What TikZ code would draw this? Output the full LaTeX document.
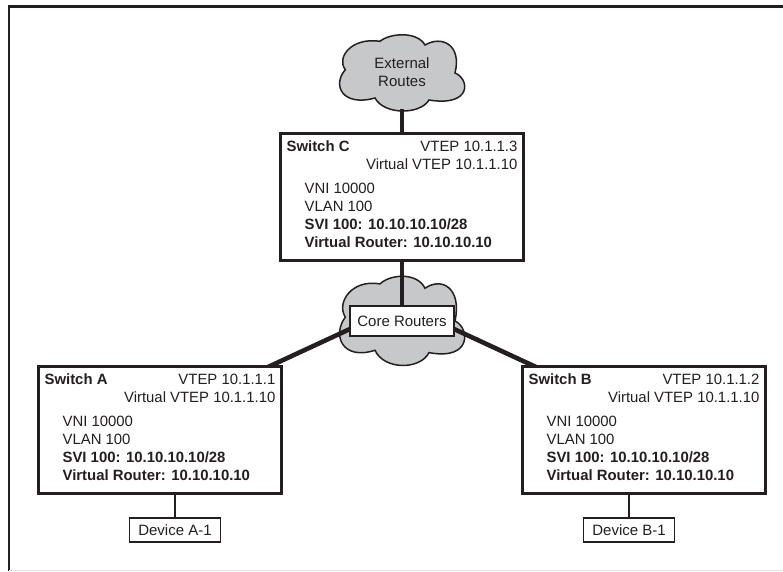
\documentclass[tikz,border=0pt]{standalone}
\usepackage{fontspec}
\setmainfont{Liberation Sans}
\usetikzlibrary{calc, backgrounds}

\definecolor{cloudgray}{RGB}{199,200,202}
\definecolor{inkgray}{RGB}{35,31,32}
\tikzset{
  switchbox/.style={draw=inkgray, line width=2.2pt, fill=white, minimum width=243pt, minimum height=127pt, inner sep=0pt},
  devicebox/.style={draw=inkgray, line width=1.9pt, fill=white, minimum width=91pt, minimum height=24pt, inner sep=0pt, text=inkgray, font=\fontsize{15}{18}\selectfont},
  corebox/.style={draw=inkgray, line width=1.9pt, fill=white, minimum width=104pt, minimum height=30pt, inner sep=0pt, text=inkgray, font=\fontsize{15}{18}\selectfont},
  cloudline/.style={draw=inkgray, line width=1.5pt, fill=cloudgray},
  trunk/.style={draw=inkgray, line width=4.6pt},
  access/.style={draw=inkgray, line width=1.9pt},
  leftline/.style={anchor=base west, inner sep=0pt, text=inkgray, font=\fontsize{14.9}{18}\selectfont},
  rightline/.style={anchor=base east, inner sep=0pt, text=inkgray, font=\fontsize{14.9}{18}\selectfont}
}
\newcommand{\cloudpath}{(-56.7,-3.3) .. controls (-66,-16) and (-50,-36) .. (-22,-31.7)
  .. controls (-12,-40) and (15,-42) .. (23,-28)
  .. controls (40,-38) and (60,-28) .. (53,0)
  .. controls (68,6) and (70,34) .. (27,27)
  .. controls (18,42) and (-18,42) .. (-27,25)
  .. controls (-60,34) and (-70,12) .. (-56.7,-3.3) -- cycle}

\begin{document}
\begin{tikzpicture}[x=1pt, y=-1pt]
\useasboundingbox (0,0) rectangle (783,571);

% frame
\draw[inkgray, line width=2.8pt] (9,571) -- (9,6.5) -- (783,6.5);
\draw[cloudgray!50, line width=0.6pt] (9,570.5) -- (783,570.5);

% boxes
\node[switchbox] (switchC) at (402,197) {};
\node[switchbox] (switchA) at (160,430) {};
\node[switchbox] (switchB) at (644,430) {};
\node[corebox] (core) at (402,321) {Core Routers};
\node[devicebox] (deviceA) at (175,530) {Device A-1};
\node[devicebox] (deviceB) at (629,530) {Device B-1};

% free ends of the links
\coordinate (externalfoot) at (402,109);
\coordinate (coreleft) at (350,329);
\coordinate (coreright) at (454,329);
\coordinate (uplinkA) at (268,367);
\coordinate (uplinkB) at (536,367);

% clouds and links
\begin{scope}[on background layer]
\path[cloudline, shift={(402,73)}] \cloudpath;
\path[cloudline, shift={(402,321)}, yscale=1.17] \cloudpath;
\draw[trunk] (externalfoot) -- (switchC.north);
\draw[trunk] (switchC.south) -- (core.north);
\draw[trunk] (coreleft) -- (uplinkA);
\draw[trunk] (coreright) -- (uplinkB);
\draw[access] (switchA.south -| deviceA) -- (deviceA.north);
\draw[access] (switchB.south -| deviceB) -- (deviceB.north);
\end{scope}
\node[text=inkgray, align=center, font=\fontsize{15}{18}\selectfont] (external) at (402,72.5) {External\\Routes};

% switch C
\node[leftline] (nameC) at ($(switchC.north west)+(7,19.5)$) {\textbf{Switch C}};
\node[rightline] (vtepC) at ($(switchC.north east)+(-7,19.5)$) {VTEP 10.1.1.3};
\node[rightline] (virtC) at ($(switchC.north east)+(-7,37.5)$) {Virtual VTEP 10.1.1.10};
\node[leftline] (vniC) at ($(switchC.north west)+(25,61.5)$) {VNI 10000};
\node[leftline] (vlanC) at ($(switchC.north west)+(25,79.5)$) {VLAN 100};
\node[leftline] (sviC) at ($(switchC.north west)+(25,97.5)$) {\textbf{SVI 100: 10.10.10.10/28}};
\node[leftline] (routerC) at ($(switchC.north west)+(25,115.5)$) {\textbf{Virtual Router: 10.10.10.10}};

% switch A
\node[leftline] (nameA) at ($(switchA.north west)+(7,19.5)$) {\textbf{Switch A}};
\node[rightline] (vtepA) at ($(switchA.north east)+(-7,19.5)$) {VTEP 10.1.1.1};
\node[rightline] (virtA) at ($(switchA.north east)+(-7,37.5)$) {Virtual VTEP 10.1.1.10};
\node[leftline] (vniA) at ($(switchA.north west)+(25,61.5)$) {VNI 10000};
\node[leftline] (vlanA) at ($(switchA.north west)+(25,79.5)$) {VLAN 100};
\node[leftline] (sviA) at ($(switchA.north west)+(25,97.5)$) {\textbf{SVI 100: 10.10.10.10/28}};
\node[leftline] (routerA) at ($(switchA.north west)+(25,115.5)$) {\textbf{Virtual Router: 10.10.10.10}};

% switch B
\node[leftline] (nameB) at ($(switchB.north west)+(7,19.5)$) {\textbf{Switch B}};
\node[rightline] (vtepB) at ($(switchB.north east)+(-7,19.5)$) {VTEP 10.1.1.2};
\node[rightline] (virtB) at ($(switchB.north east)+(-7,37.5)$) {Virtual VTEP 10.1.1.10};
\node[leftline] (vniB) at ($(switchB.north west)+(25,61.5)$) {VNI 10000};
\node[leftline] (vlanB) at ($(switchB.north west)+(25,79.5)$) {VLAN 100};
\node[leftline] (sviB) at ($(switchB.north west)+(25,97.5)$) {\textbf{SVI 100: 10.10.10.10/28}};
\node[leftline] (routerB) at ($(switchB.north west)+(25,115.5)$) {\textbf{Virtual Router: 10.10.10.10}};
\end{tikzpicture}
\end{document}
